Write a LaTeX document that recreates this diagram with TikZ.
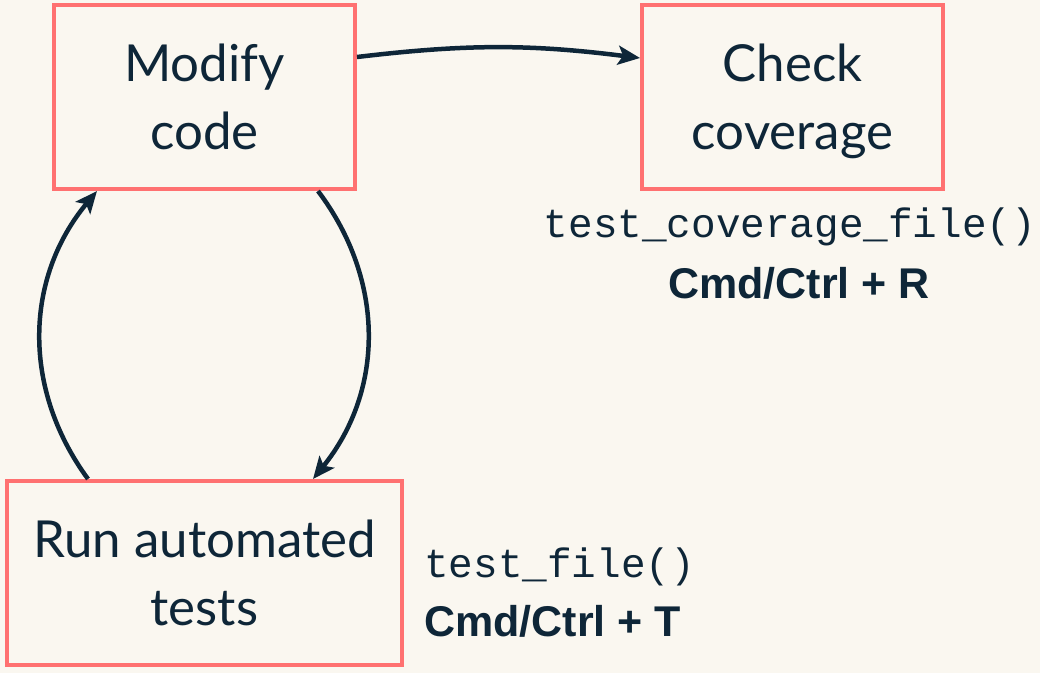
\documentclass[tikz,border=0pt]{standalone}
\usepackage{fontspec}
\setmainfont{Lato}
\newfontfamily\codefont{Liberation Mono}
\newfontfamily\keyfont{Liberation Sans}
\usepackage{xcolor}
\usetikzlibrary{arrows.meta,positioning}
\definecolor{paper}{HTML}{FAF7F0}
\definecolor{coral}{HTML}{FF7171}
\definecolor{ink}{HTML}{0E2638}

\begin{document}
\begin{tikzpicture}[
  x=1pt, y=-1pt,
  stepbox/.style={draw=coral, line width=4pt, fill=paper, text=ink,
                  align=center, minimum width=301pt, minimum height=184pt,
                  inner sep=0pt, text depth=0pt, font=\fontsize{51}{68}\selectfont},
  codelabel/.style={text=ink, inner sep=0pt, font=\codefont\fontsize{41}{41}\selectfont},
  keylabel/.style={text=ink, inner sep=0pt, font=\keyfont\bfseries\fontsize{43}{43}\selectfont},
  flow/.style={-{Stealth[length=22pt,width=19pt,inset=5pt]}, line width=4.5pt, draw=ink}
]
  \fill[paper] (0,0) rectangle (1040,673);
  \useasboundingbox (0,0) rectangle (1040,673);

  \node[stepbox] (modify) at (204.5,97) {Modify\\code};
  \node[stepbox] (check) at (792.5,97) {Check\\coverage};
  \node[stepbox, minimum width=395pt] (run) at (204.5,573) {Run automated\\tests};

  \node[codelabel, anchor=base] (checkcode) at (790,237) {test\_coverage\_file()};
  \node[keylabel, anchor=base] (checkkey) at (799,298) {Cmd/Ctrl + R};
  \node[codelabel, anchor=base west] (runcode) at (424,577) {test\_file()};
  \node[keylabel, anchor=base west] (runkey) at (424,636) {Cmd/Ctrl + T};

  \draw[flow] ([yshift=40pt]modify.east) to[bend left=7] ([yshift=39pt]check.west);
  \draw[flow] ([xshift=113.5pt]modify.south) to[bend left=38] ([xshift=108.5pt]run.north);
  \draw[flow] ([xshift=-116.5pt]run.north) to[bend left=38] ([xshift=-107.5pt]modify.south);
\end{tikzpicture}
\end{document}
